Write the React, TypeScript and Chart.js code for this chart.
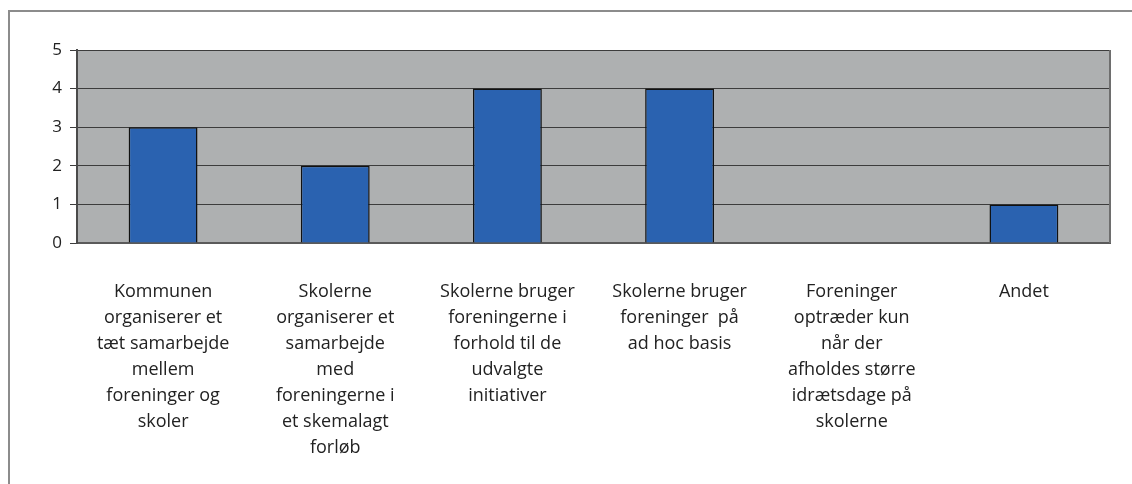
import React, { useEffect, useRef } from "react";
import { Chart, registerables } from "chart.js";

Chart.register(...registerables);

const categories: string[][] = [
  ["Kommunen", "organiserer et", "tæt samarbejde", "mellem", "foreninger og", "skoler"],
  ["Skolerne", "organiserer et", "samarbejde", "med", "foreningerne i", "et skemalagt", "forløb"],
  ["Skolerne bruger", "foreningerne i", "forhold til de", "udvalgte", "initiativer"],
  ["Skolerne bruger", "foreninger  på", "ad hoc basis"],
  ["Foreninger", "optræder kun", "når der", "afholdes større", "idrætsdage på", "skolerne"],
  ["Andet"],
];
const values: number[] = [3, 2, 4, 4, 0, 1];
const yTicks: number[] = [0, 1, 2, 3, 4, 5];

const FONT = "'Open Sans', 'DejaVu Sans', sans-serif";

const framePlugin = {
  id: "frame",
  beforeDraw(chart: any) {
    const { ctx, chartArea } = chart;
    ctx.save();
    ctx.fillStyle = "#ffffff";
    ctx.fillRect(0, 0, chart.width, chart.height);
    ctx.fillStyle = "#8c8c8c";
    ctx.fillRect(8, 10, 2, chart.height - 10);
    ctx.fillRect(8, 10, chart.width - 8, 2);
    ctx.fillStyle = "#aeb0b1";
    ctx.fillRect(chartArea.left, chartArea.top, chartArea.right - chartArea.left, chartArea.bottom - chartArea.top);
    ctx.restore();
  },
  afterDatasetsDraw(chart: any) {
    const { ctx, chartArea } = chart;
    ctx.save();
    ctx.fillStyle = "#6e6e6e";
    ctx.fillRect(chartArea.right - 1, chartArea.top, 2, chartArea.bottom - chartArea.top);
    ctx.restore();
  },
};

export default function App() {
  const ref = useRef<HTMLCanvasElement | null>(null);
  useEffect(() => {
    if (!ref.current) return;
    const chart = new Chart(ref.current, {
      type: "bar",
      data: {
        labels: categories,
        datasets: [
          {
            data: values,
            backgroundColor: "#2a62b0",
            borderColor: "#111111",
            borderWidth: 1.5,
            categoryPercentage: 0.8,
            barPercentage: 0.5,
          },
        ],
      },
      options: {
        animation: false,
        responsive: false,
        layout: { padding: { top: 50, right: 22, left: 0, bottom: 0 } },
        plugins: { legend: { display: false }, tooltip: { enabled: false } },
        scales: {
          x: {
            grid: { display: false, drawTicks: false },
            border: { display: true, color: "#5a5a5a", width: 2 },
            ticks: {
              color: "#222222",
              font: { family: FONT, size: 18, lineHeight: "26px" as any },
              padding: 36,
              maxRotation: 0,
              minRotation: 0,
              autoSkip: false,
            },
            afterFit(scale: any) {
              scale.height = 241;
            },
          },
          y: {
            min: 0,
            max: 5,
            afterBuildTicks(scale: any) {
              scale.ticks = yTicks.map((v) => ({ value: v }));
            },
            grid: { color: "#3c3c3c", lineWidth: 1, tickLength: 7 },
            border: { display: true, color: "#4a4a4a", width: 2 },
            ticks: {
              color: "#222222",
              font: { family: FONT, size: 17 },
              padding: 8,
            },
            afterFit(scale: any) {
              scale.width = 77;
            },
          },
        },
      },
      plugins: [framePlugin],
    });
    return () => chart.destroy();
  }, []);
  return (
    <div style={{ position: "absolute", left: 0, top: 0, width: 1132, height: 484 }}>
      <canvas ref={ref} width={1132} height={484} style={{ width: 1132, height: 484, display: "block" }} />
    </div>
  );
}
